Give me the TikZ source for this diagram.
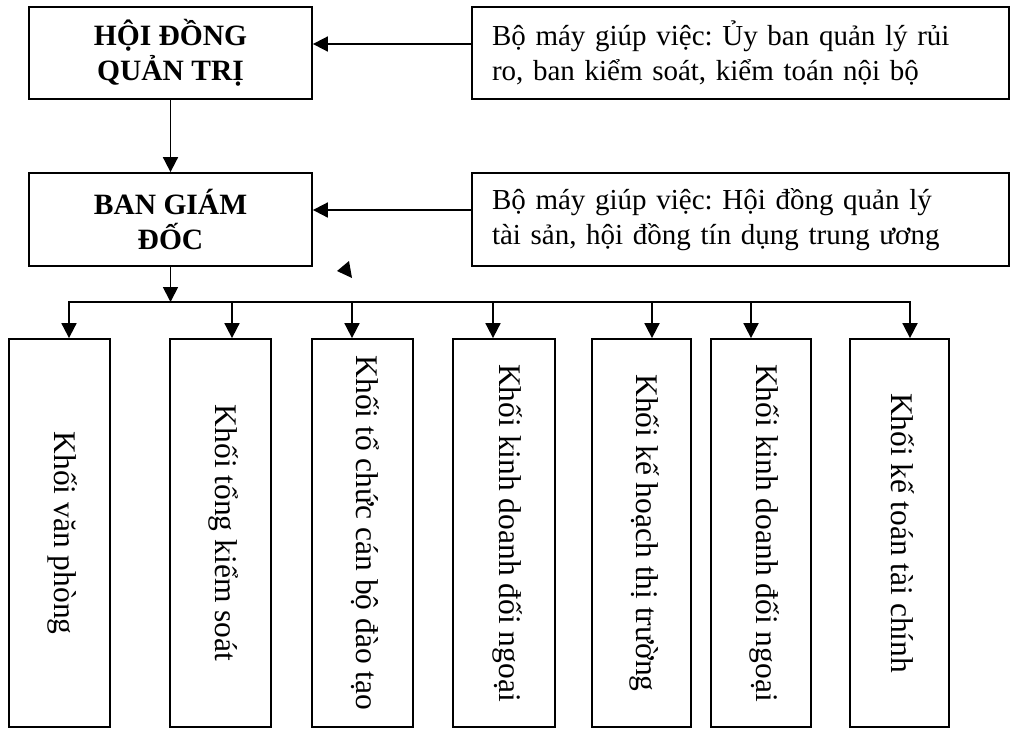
\documentclass[tikz,border=0pt]{standalone}
\usepackage{fontspec}
\setmainfont{Liberation Serif}
\usetikzlibrary{arrows.meta}
\frenchspacing
\begin{document}
\begin{tikzpicture}[x=1pt,y=-1pt,
  box/.style={draw, line width=1.8pt, rectangle, inner sep=0pt},
  head/.style={box, font=\fontsize{29.5}{35}\selectfont\bfseries, align=center,
    minimum width=283pt, minimum height=92pt},
  helper/.style={box, font=\fontsize{29}{35}\selectfont, align=left,
    text width=497pt, inner xsep=20pt, minimum height=92pt},
  unit/.style={box, minimum height=388pt},
  unitlabel/.style={rotate=-90, font=\fontsize{31.5}{35}\selectfont, inner sep=0pt},
  wire/.style={line width=1.8pt},
  conn/.style={wire, -{Triangle[length=15pt,width=15pt]}}]
\useasboundingbox (0,0) rectangle (1011,729);

% top level: board and its supporting bodies
\node[head] (hdqt) at (170.5,53) {HỘI ĐỒNG\\QUẢN TRỊ};
\node[helper] (bm1) at (740.5,53) {Bộ máy giúp việc: Ủy ban quản lý rủi\\ro, ban kiểm soát, kiểm toán nội bộ};

% second level: executive board and its supporting bodies
\node[head, minimum height=93pt] (bgd) at (170.5,219.5) {BAN GIÁM\\ĐỐC};
\node[helper, minimum height=93pt] (bm2) at (740.5,219.5) {Bộ máy giúp việc: Hội đồng quản lý\\tài sản, hội đồng tín dụng trung ương};

\draw[conn] ([yshift=9pt]bm1.west) -- ([yshift=9pt]hdqt.east);
\draw[conn] ([yshift=9.5pt]bm2.west) -- ([yshift=9.5pt]bgd.east);
\draw[conn] (hdqt.south) -- (bgd.north);

% stray arrowhead
\fill (337,271) -- (349,261) -- (352,278) -- cycle;

% functional divisions
\node[unit, minimum width=101pt] (u1) at (59.5,533) {};
\node[unit, minimum width=101pt] (u2) at (220.5,533) {};
\node[unit, minimum width=101pt] (u3) at (362.5,533) {};
\node[unit, minimum width=102pt] (u4) at (504,533) {};
\node[unit, minimum width=99pt]  (u5) at (641.5,533) {};
\node[unit, minimum width=100pt] (u6) at (761,533) {};
\node[unit, minimum width=99pt]  (u7) at (899.5,533) {};

\node[unitlabel] (t1) at ([xshift=3pt]u1.center) {Khối văn phòng};
\node[unitlabel] (t2) at ([xshift=3pt]u2.center) {Khối tổng kiểm soát};
\node[unitlabel] (t3) at ([xshift=3pt]u3.center) {Khối tổ chức cán bộ đào tạo};
\node[unitlabel] (t4) at ([xshift=3pt]u4.center) {Khối kinh doanh đối ngoại};
\node[unitlabel] (t5) at ([xshift=3pt]u5.center) {Khối kế hoạch thị trường};
\node[unitlabel] (t6) at ([xshift=3pt]u6.center) {Khối kinh doanh đối ngoại};
\node[unitlabel] (t7) at ([xshift=3pt]u7.center) {Khối kế toán tài chính};

% distribution bus
\coordinate (j1) at (69,302);
\coordinate (j2) at (232,302);
\coordinate (j3) at (352,302);
\coordinate (j4) at (493,302);
\coordinate (j5) at (652,302);
\coordinate (j6) at (751,302);
\coordinate (j7) at (910,302);
\coordinate (jb) at (bgd.south |- j1);

\draw[conn] (bgd.south) -- (jb);
\draw[wire, line cap=rect] (j1) -- (j7);
\foreach \i in {1,...,7} {
  \draw[conn] (j\i) -- (j\i |- u\i.north);
}
\end{tikzpicture}
\end{document}
